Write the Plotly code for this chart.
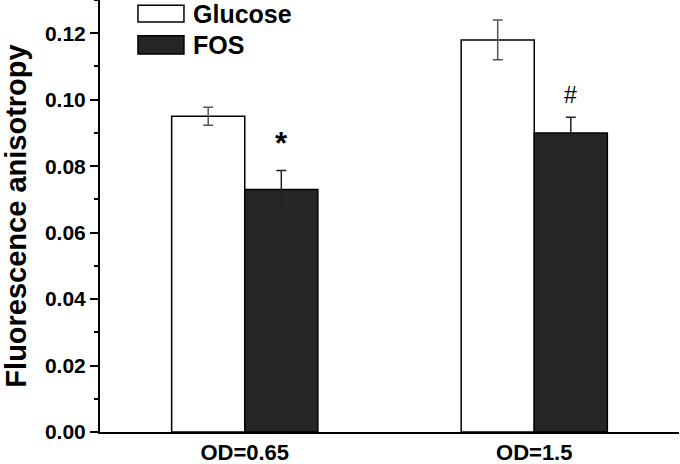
import plotly.graph_objects as go

categories = ["OD=0.65", "OD=1.5"]
glucose = [0.095, 0.118]
glucose_err = [0.0027, 0.006]
fos = [0.073, 0.090]
fos_err = [0.0057, 0.0047]
marks = ["*", "#"]
y_ticks = [0.00, 0.02, 0.04, 0.06, 0.08, 0.10, 0.12]

FONT = "Liberation Sans, Arial, sans-serif"
bargap = 0.495

fig = go.Figure()
fig.add_trace(go.Bar(
    x=categories, y=glucose, name="Glucose",
    marker=dict(color="white", line=dict(color="black", width=1.5)),
    error_y=dict(type="data", array=glucose_err, color="#555555", thickness=1.5, width=5),
))
fig.add_trace(go.Bar(
    x=categories, y=fos, name="FOS",
    marker=dict(color="#262626", line=dict(color="black", width=1.5)),
    error_y=dict(type="data", array=fos_err, color="#222222", thickness=1.5, width=5),
))

off = (1 - bargap) / 4
# significance marks above FOS bars
fig.add_annotation(x=0 + off, y=fos[0] + fos_err[0], text="<b>" + marks[0] + "</b>", showarrow=False,
                   yanchor="bottom", yshift=7, font=dict(family=FONT, size=31, color="black"))
fig.add_annotation(x=1 + off, y=fos[1] + fos_err[1], text=marks[1], showarrow=False,
                   yanchor="bottom", yshift=7, font=dict(family=FONT, size=23, color="black"))

# legend drawn manually
leg = [("Glucose", "white", 0.988, 0.949), ("FOS", "#262626", 0.917, 0.875)]
for name, col, y1, y0 in leg:
    fig.add_shape(type="rect", xref="paper", yref="paper", x0=0.0656, x1=0.145, y0=y0, y1=y1,
                  fillcolor=col, line=dict(color="black", width=1.5))
    fig.add_annotation(xref="paper", yref="paper", x=0.157, y=(y0 + y1) / 2, text=f"<b>{name}</b>",
                       showarrow=False, xanchor="left", yanchor="middle",
                       font=dict(family=FONT, size=25, color="black"))

fig.update_layout(
    width=680, height=464,
    margin=dict(l=100, r=1, t=0, b=32, autoexpand=False),
    paper_bgcolor="white", plot_bgcolor="white",
    barmode="group", bargap=bargap, bargroupgap=0,
    showlegend=False,
    font=dict(family=FONT, color="black"),
)
fig.update_xaxes(
    type="category", range=[-0.5, 1.5],
    showline=True, linecolor="black", linewidth=2,
    ticks="", showgrid=False, zeroline=False, automargin=False,
    tickfont=dict(family=FONT, size=22, color="black"),
    tickprefix="<b>", ticksuffix="</b>",
)
fig.update_yaxes(
    range=[0, 0.13], automargin=False,
    tickvals=y_ticks, ticktext=[f"<b>{v:.2f}</b>" for v in y_ticks],
    showline=True, linecolor="black", linewidth=2,
    ticks="outside", ticklen=8, tickwidth=2, tickcolor="black",
    minor=dict(ticks="outside", ticklen=4, tickwidth=2, tickcolor="black", dtick=0.01, showgrid=False),
    showgrid=False, zeroline=False,
    tickfont=dict(family=FONT, size=21, color="black"),
    title=dict(text="<b>Fluorescence anisotropy</b>", font=dict(family=FONT, size=29, color="black"), standoff=10),
)

fig.write_html("out.html", config={"displayModeBar": False},
               post_script="document.body.style.margin='0';")
